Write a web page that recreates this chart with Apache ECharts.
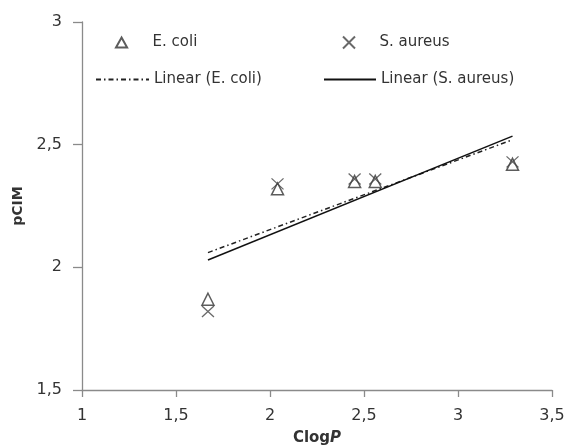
<!DOCTYPE html>
<html>
<head>
<meta charset="utf-8">
<script src="https://cdn.jsdelivr.net/npm/echarts@6/dist/echarts.min.js"></script>
<style>html,body{margin:0;padding:0;background:#fff;overflow:hidden;}#c{width:565px;height:446px;}</style>
</head>
<body>
<div id="c"></div>
<script>
// Data
var clogP = [1.67, 2.04, 2.45, 2.56, 3.29];
var ecoli = [1.87, 2.32, 2.35, 2.35, 2.42];
var saureus = [1.82, 2.34, 2.36, 2.36, 2.43];
// Trendline endpoints
var ecoliTrendX = [1.67, 3.29];
var ecoliTrendY = [2.06, 2.52];
var saureusTrendX = [1.67, 3.29];
var saureusTrendY = [2.03, 2.535];
var xTicks = {min: 1, max: 3.5, step: 0.5};
var yTicks = {min: 1.5, max: 3, step: 0.5};

function pairs(xs, ys) { return xs.map(function (x, i) { return [x, ys[i]]; }); }
function comma(v) { return String(v).replace('.', ','); }

var FONT = 'DejaVu Sans';
var TXT = '#333';
var AXC = '#8a8a8a';
var triPath = 'path://M5,0L10,9L0,9Z';
var xPath = 'path://M0,0L10,10M10,0L0,10';
var dashDot = [5, 3, 1.5, 3];
var LF = 15;

var chart = echarts.init(document.getElementById('c'));
function lg(name, left, top, w, h, pad, extra) {
  return Object.assign({
    data: [name], left: left, top: top, itemWidth: w, itemHeight: h,
    orient: 'horizontal', padding: 0, itemGap: 0,
    textStyle: {fontFamily: FONT, fontSize: LF, color: TXT, padding: [0, 0, 0, pad]}
  }, extra || {});
}
chart.setOption({
  animation: false,
  grid: {left: 82, right: 13, top: 22, bottom: 56, containLabel: false, outerBoundsMode: 'none'},
  legend: [
    lg('E. coli', 115, 35, 14, 10, 19),
    lg('S. aureus', 342, 35, 15, 12, 18),
    lg('Linear (E. coli)', 95, 72, 53, 12, 0, {itemStyle: {opacity: 0}}),
    lg('Linear (S. aureus)', 323, 72, 52, 12, 0, {itemStyle: {opacity: 0}})
  ],
  xAxis: {
    type: 'value', min: xTicks.min, max: xTicks.max, interval: xTicks.step,
    name: '{a|Clog}{b|P}', nameLocation: 'middle', nameGap: 41,
    nameTextStyle: {rich: {
      a: {fontFamily: FONT, fontSize: 15, fontWeight: 'bold', color: TXT},
      b: {fontFamily: FONT, fontSize: 15, fontWeight: 'bold', fontStyle: 'italic', color: TXT}
    }},
    axisLine: {show: true, lineStyle: {color: AXC, width: 1.3}},
    axisTick: {show: true, inside: false, length: 7, lineStyle: {color: AXC, width: 1.3}},
    axisLabel: {margin: 18, fontFamily: FONT, fontSize: 16, color: TXT, formatter: comma},
    splitLine: {show: false}
  },
  yAxis: {
    type: 'value', min: yTicks.min, max: yTicks.max, interval: yTicks.step,
    name: 'pCIM', nameLocation: 'middle', nameGap: 49, nameRotate: 90,
    nameTextStyle: {fontFamily: FONT, fontSize: 14, fontWeight: 'bold', color: TXT},
    axisLine: {show: true, lineStyle: {color: AXC, width: 1.3}},
    axisTick: {show: true, inside: false, length: 9, lineStyle: {color: AXC, width: 1.3}},
    axisLabel: {margin: 20, fontFamily: FONT, fontSize: 16, color: TXT, formatter: comma},
    splitLine: {show: false}
  },
  series: [
    {
      name: 'E. coli', type: 'scatter', data: pairs(clogP, ecoli),
      symbol: triPath, symbolSize: [12, 12], z: 3,
      itemStyle: {color: 'rgba(255,255,255,0)', borderColor: '#333', borderWidth: 1.5}
    },
    {
      name: 'S. aureus', type: 'scatter', data: pairs(clogP, saureus),
      symbol: xPath, symbolSize: [12, 11], z: 3,
      itemStyle: {color: 'rgba(255,255,255,0)', borderColor: '#444', borderWidth: 1.2}
    },
    {
      name: 'Linear (E. coli)', type: 'line', data: pairs(ecoliTrendX, ecoliTrendY),
      symbol: 'none', z: 2,
      lineStyle: {color: '#222', width: 1.5, type: dashDot},
      itemStyle: {color: '#222'}
    },
    {
      name: 'Linear (S. aureus)', type: 'line', data: pairs(saureusTrendX, saureusTrendY),
      symbol: 'none', z: 2,
      lineStyle: {color: '#111', width: 1.5, type: 'solid'},
      itemStyle: {color: '#111'}
    }
  ]
});
</script>
</body>
</html>
